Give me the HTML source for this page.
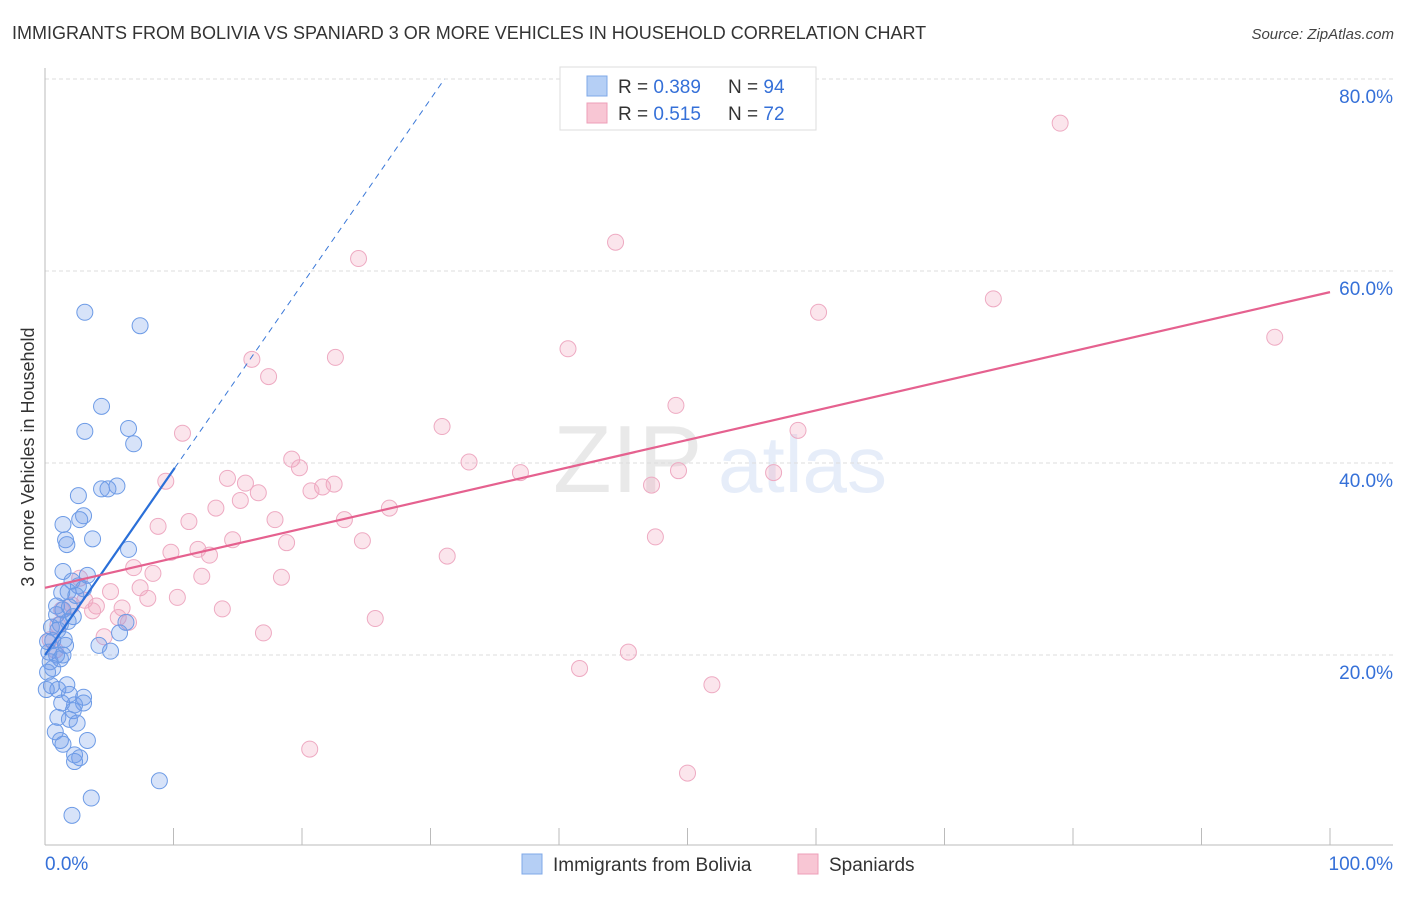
<!DOCTYPE html>
<html><head><meta charset="utf-8"><style>
body{margin:0;background:#fff;font-family:"Liberation Sans",sans-serif;}
svg text{font-family:"Liberation Sans",sans-serif;}
</style></head><body>
<svg id="chart" width="1406" height="892" viewBox="0 0 1406 892" xmlns="http://www.w3.org/2000/svg">
<text x="12" y="39" font-size="18" fill="#333">IMMIGRANTS FROM BOLIVIA VS SPANIARD 3 OR MORE VEHICLES IN HOUSEHOLD CORRELATION CHART</text>
<text x="1394" y="39" font-size="15" fill="#444" text-anchor="end" font-style="italic">Source: ZipAtlas.com</text>
<g opacity="0.12">
<text x="553" y="492" font-size="96" font-family="Liberation Serif" fill="#555">ZIP</text>
<text x="718" y="492" font-size="80" fill="#3b6fd6">atlas</text>
</g>
<g id="grid"></g>
<g id="axes"></g>
<g id="marks"></g>
<g>
<rect x="560" y="67" width="256" height="63" fill="#fff" stroke="#ddd"/>
<rect x="587" y="76" width="20" height="20" fill="#b5cff5" stroke="#7fa8e8"/>
<rect x="587" y="103" width="20" height="20" fill="#f8c6d4" stroke="#ee9fb8"/>
<text x="618" y="93" font-size="19" fill="#333">R = <tspan fill="#3570d8">0.389</tspan></text>
<text x="728" y="93" font-size="19" fill="#333">N = <tspan fill="#3570d8">94</tspan></text>
<text x="618" y="120" font-size="19" fill="#333">R = <tspan fill="#3570d8"> 0.515</tspan></text>
<text x="728" y="120" font-size="19" fill="#333">N = <tspan fill="#3570d8">72</tspan></text>
</g>
<g>
<rect x="522" y="854" width="20" height="20" fill="#b5cff5" stroke="#7fa8e8"/>
<text x="553" y="871" font-size="19" fill="#333">Immigrants from Bolivia</text>
<rect x="798" y="854" width="20" height="20" fill="#f8c6d4" stroke="#ee9fb8"/>
<text x="829" y="871" font-size="19" fill="#333">Spaniards</text>
</g>
<text transform="translate(34,457) rotate(-90)" font-size="18" fill="#333" text-anchor="middle">3 or more Vehicles in Household</text>
</svg>
<script>
const yTicks=[20,40,60,80];
const yTickLabels=["20.0%","40.0%","60.0%","80.0%"];
const xTickLabels=["0.0%","100.0%"];
const blueX=[3.1,7.4,4.4,6.5,3.1,6.9,5.6,4.4,4.9,2.6,3.0,2.7,1.4,1.6,1.7,3.7,6.5,1.4,3.3,2.1,2.6,3.0,1.8,1.3,2.4,0.9,1.4,0.9,2.2,1.8,1.2,0.5,1.0,6.3,5.8,1.5,0.6,4.2,5.1,1.6,0.3,0.9,1.2,0.4,0.6,1.4,0.2,0.5,1.0,1.7,1.9,3.0,3.0,2.3,2.2,1.3,1.0,1.9,2.5,0.8,1.2,3.3,1.4,2.3,2.7,2.3,8.9,3.6,2.1,0.1,0.2,1.9];
const blueY=[55.7,54.3,45.9,43.6,43.3,42.0,37.6,37.3,37.3,36.6,34.5,34.1,33.6,32.0,31.5,32.1,31.0,28.7,28.3,27.7,27.2,26.9,26.6,26.5,26.2,25.1,24.7,24.2,24.0,23.5,23.2,22.9,22.6,23.4,22.3,21.6,21.5,21.0,20.4,21.0,20.3,20.0,19.6,19.3,18.6,20.0,18.2,16.8,16.4,16.9,15.9,15.6,15.0,14.8,14.2,15.0,13.5,13.3,12.9,12.0,11.1,11.1,10.7,9.6,9.3,8.9,6.9,5.1,3.3,16.4,21.4,25.0];
const pinkX=[79,44.4,24.4,73.8,60.2,95.7,40.7,16.1,22.6,17.4,49.1,10.7,30.9,58.6,19.2,33.0,19.8,37.0,49.3,56.7,9.4,14.2,15.6,22.5,21.6,20.7,47.2,16.6,15.2,13.3,26.8,17.9,23.3,11.2,8.8,14.6,18.8,24.7,47.5,11.9,9.8,12.8,31.3,6.9,8.4,12.2,18.4,2.7,7.4,5.1,10.3,8.0,3.1,2.1,4.0,6.0,3.7,13.8,5.7,6.5,25.7,17.0,4.6,45.4,41.6,51.9,20.6,50.0,0.4,1.0,0.8,1.3];
const pinkY=[75.4,63.0,61.3,57.1,55.7,53.1,51.9,50.8,51.0,49.0,46.0,43.1,43.8,43.4,40.4,40.1,39.5,39.0,39.2,39.0,38.1,38.4,37.9,37.8,37.5,37.1,37.7,36.9,36.1,35.3,35.3,34.1,34.1,33.9,33.4,32.0,31.7,31.9,32.3,31.0,30.7,30.4,30.3,29.1,28.5,28.2,28.1,28.0,27.0,26.6,26.0,25.9,25.7,25.2,25.1,24.9,24.6,24.8,23.9,23.4,23.8,22.3,21.9,20.3,18.6,16.9,10.2,7.7,21.6,23.1,20.5,24.7];
const blueTrend=[20,1.93];
const pinkTrend=[27,0.308];
const NS="http://www.w3.org/2000/svg";
const X=v=>45+v*12.85, Y=v=>847-v*9.6;
function mk(t,a,p){const e=document.createElementNS(NS,t);for(const k in a)e.setAttribute(k,a[k]);p.appendChild(e);return e;}
const grid=document.getElementById('grid'),axes=document.getElementById('axes'),marks=document.getElementById('marks');
yTicks.forEach((t,i)=>{
 const l=mk('line',{x1:45,x2:1393,y1:Y(t),y2:Y(t),stroke:'#ddd','stroke-dasharray':'4,3'},grid);
 
 
 const tx=mk('text',{x:1393,y:Y(t)+24,'font-size':19,fill:'#3570d8','text-anchor':'end'},axes);
 tx.textContent=yTickLabels[i];
 
 
});
mk('line',{x1:45,x2:45,y1:68,y2:845,stroke:'#bbb'},axes);
mk('line',{x1:45,x2:1393,y1:845,y2:845,stroke:'#bbb'},axes);
for(let i=0;i<=10;i++){const t=mk('line',{x1:X(i*10),x2:X(i*10),y1:828,y2:845,stroke:'#bbb'},axes);
 
 }
const xl0=mk('text',{x:45,y:870,'font-size':19,fill:'#3570d8'},axes);xl0.textContent=xTickLabels[0];


const xl1=mk('text',{x:1393,y:870,'font-size':19,fill:'#3570d8','text-anchor':'end'},axes);xl1.textContent=xTickLabels[1];


pinkX.forEach((x,i)=>{const c=mk('circle',{cx:X(x),cy:Y(pinkY[i]),r:8,fill:'rgba(242,160,188,0.28)',stroke:'#eeaac2','stroke-width':1},marks);
 
 });
blueX.forEach((x,i)=>{const c=mk('circle',{cx:X(x),cy:Y(blueY[i]),r:8,fill:'rgba(110,155,235,0.28)',stroke:'#6d9be6','stroke-width':1},marks);
 
 });
const bEnd=(80-blueTrend[0])/blueTrend[1];
const bd=mk('line',{x1:X(10.1),y1:Y(blueTrend[0]+blueTrend[1]*10.1),x2:X(bEnd),y2:Y(80),stroke:'#3a78d8','stroke-dasharray':'6,5','stroke-width':1},marks);


const bl=mk('line',{x1:X(0),y1:Y(blueTrend[0]),x2:X(10.1),y2:Y(blueTrend[0]+blueTrend[1]*10.1),stroke:'#2a6fd8','stroke-width':2.2},marks);


const pl=mk('line',{x1:X(0),y1:Y(pinkTrend[0]),x2:X(100),y2:Y(pinkTrend[0]+pinkTrend[1]*100),stroke:'#e5618f','stroke-width':2.2},marks);


</script>
</body></html>
